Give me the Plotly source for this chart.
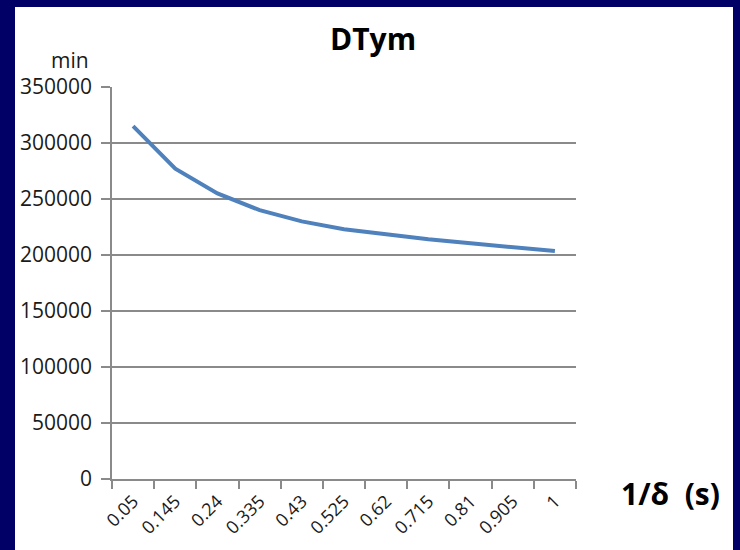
import plotly.graph_objects as go

# Time (min) versus 1/delta (s)
categories = ["0.05", "0.145", "0.24", "0.335", "0.43", "0.525",
              "0.62", "0.715", "0.81", "0.905", "1"]
dtym_values = [315000, 277000, 255000, 240000, 230000, 223000,
               218500, 214000, 210500, 207000, 203500]
y_ticks = [0, 50000, 100000, 150000, 200000, 250000, 300000, 350000]

W, H = 740, 550
ML, MR, MT, MB = 112, 164, 87, 71
PW, PH = W - ML - MR, H - MT - MB
NAVY = "#000066"
GRID = "#8a8a8a"
TEXT = "#1a1a1a"
FONT = "Open Sans"


def px_x(px):
    """Pixel column -> paper x."""
    return (px - ML) / PW


def px_y(py):
    """Pixel row (from top) -> paper y."""
    return (H - MB - py) / PH


fig = go.Figure()
fig.add_trace(go.Scatter(
    x=categories, y=dtym_values, mode="lines",
    line=dict(color="#4F81BD", width=4),
    hoverinfo="skip", showlegend=False,
))

fig.update_layout(
    width=W, height=H,
    margin=dict(l=ML, r=MR, t=MT, b=MB),
    paper_bgcolor=NAVY,
    plot_bgcolor="white",
    font=dict(family=FONT, color=TEXT),
    showlegend=False,
    shapes=[dict(
        type="rect", xref="paper", yref="paper", layer="below",
        x0=px_x(15), x1=px_x(733), y0=px_y(560), y1=px_y(7),
        fillcolor="white", line=dict(width=0),
    )],
    annotations=[
        dict(text="<b>DTym</b>", xref="paper", yref="paper",
             x=px_x(373), y=px_y(38),
             xanchor="center", yanchor="middle", showarrow=False,
             font=dict(family=FONT, size=30, color="black")),
        dict(text="min", xref="paper", yref="paper",
             x=px_x(70), y=px_y(60),
             xanchor="center", yanchor="middle", showarrow=False,
             font=dict(family=FONT, size=21, color=TEXT)),
        dict(text="<b>1/δ  (s)</b>", xref="paper", yref="paper",
             x=px_x(670), y=px_y(493),
             xanchor="center", yanchor="middle", showarrow=False,
             font=dict(family=FONT, size=30, color="black")),
    ],
)

fig.update_xaxes(
    type="category", tickson="boundaries",
    range=[-0.5, len(categories) - 0.5],
    showgrid=False, showline=True, linecolor=GRID, linewidth=1.5,
    ticks="outside", ticklen=8, tickcolor=GRID, tickwidth=1.5,
    tickangle=-45, tickfont=dict(family=FONT, size=18, color=TEXT),
    ticklabelstandoff=3,
    zeroline=False,
)
fig.update_yaxes(
    range=[0, 350000], tickvals=y_ticks,
    ticktext=[str(v) for v in y_ticks],
    showgrid=True, gridcolor=GRID, gridwidth=1.5,
    showline=True, linecolor=GRID, linewidth=1.5,
    ticks="outside", ticklen=9, tickcolor=GRID, tickwidth=1.5,
    tickfont=dict(family=FONT, size=21, color=TEXT),
    ticklabelstandoff=5,
    zeroline=False,
)

fig.write_html("out.html")
